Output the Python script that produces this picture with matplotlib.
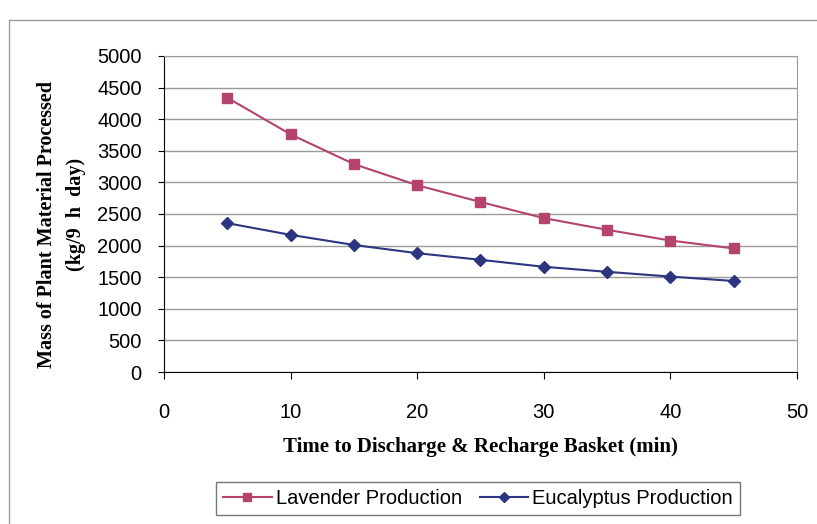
import matplotlib
matplotlib.use("Agg")
import matplotlib.pyplot as plt
from matplotlib.patches import Rectangle
from matplotlib.lines import Line2D

time_min = [5, 10, 15, 20, 25, 30, 35, 40, 45]
lavender = [4340, 3760, 3290, 2955, 2690, 2435, 2250, 2080, 1955]
eucalyptus = [2355, 2170, 2010, 1880, 1775, 1665, 1585, 1510, 1440]
x_ticks = [0, 10, 20, 30, 40, 50]
y_ticks = [0, 500, 1000, 1500, 2000, 2500, 3000, 3500, 4000, 4500, 5000]

lav_color = "#B4436E"
euc_color = "#2B3580"

W, H = 817, 524
fig = plt.figure(figsize=(W / 100, H / 100), dpi=100)
fig.patch.set_facecolor("white")

# outer chart frame
fig.patches.append(Rectangle((9 / W, -0.05), 1.0, (H - 20) / H + 0.05,
                             transform=fig.transFigure, fill=False,
                             edgecolor="#9a9a9a", linewidth=1.0))

ax = fig.add_axes([164 / W, 1 - 372 / H, (797 - 164) / W, (372 - 56) / H])
ax.set_xlim(0, 50)
ax.set_ylim(0, 5000)
ax.set_xticks(x_ticks)
ax.set_yticks(y_ticks)
ax.yaxis.grid(True, color="#9a9a9a", linewidth=1.0)
ax.set_axisbelow(True)

for side in ("top", "right"):
    ax.spines[side].set_color("#9a9a9a")
for side in ("left", "bottom"):
    ax.spines[side].set_color("black")

ax.tick_params(axis="x", direction="out", length=5, pad=17, labelsize=14.5)
ax.tick_params(axis="y", direction="out", length=4, pad=12, labelsize=14.5)
for lbl in ax.get_xticklabels() + ax.get_yticklabels():
    lbl.set_family("Liberation Sans")

ax.plot(time_min, lavender, color=lav_color, linewidth=1.5, marker="s",
        markersize=7, markerfacecolor=lav_color, markeredgecolor=lav_color,
        label="Lavender Production")
ax.plot(time_min, eucalyptus, color=euc_color, linewidth=1.5, marker="D",
        markersize=6.5, markerfacecolor=euc_color, markeredgecolor=euc_color,
        label="Eucalyptus Production")

ax.set_xlabel("Time to Discharge & Recharge Basket (min)", family="Liberation Serif",
              fontweight="bold", fontsize=15, labelpad=11)

# two-line y-axis title
fig.text(47 / W, 1 - 225 / H, "Mass of Plant Material Processed",
         rotation=90, ha="center", va="center", family="Liberation Serif",
         fontweight="bold", fontsize=14.5)
fig.text(76 / W, 1 - 214 / H, "(kg/9  h  day)",
         rotation=90, ha="center", va="center", family="Liberation Serif",
         fontweight="bold", fontsize=14.5)

handles = [
    Line2D([0], [0], color=lav_color, linewidth=1.5, marker="s", markersize=6,
           markerfacecolor=lav_color, markeredgecolor=lav_color),
    Line2D([0], [0], color=euc_color, linewidth=1.5, marker="D", markersize=5.5,
           markerfacecolor=euc_color, markeredgecolor=euc_color),
]
leg = fig.legend(handles, ["Lavender Production", "Eucalyptus Production"],
                 loc="upper center", bbox_to_anchor=(478 / W, 1 - 482 / H),
                 ncol=2, frameon=True, fancybox=False, edgecolor="#555555",
                 prop={"family": "Liberation Sans", "size": 14.5},
                 handlelength=2.4, handletextpad=0.2, columnspacing=0.9,
                 borderpad=0.35, borderaxespad=0)
leg.get_frame().set_linewidth(1.0)

fig.savefig("out.png", dpi=100, facecolor="white")
